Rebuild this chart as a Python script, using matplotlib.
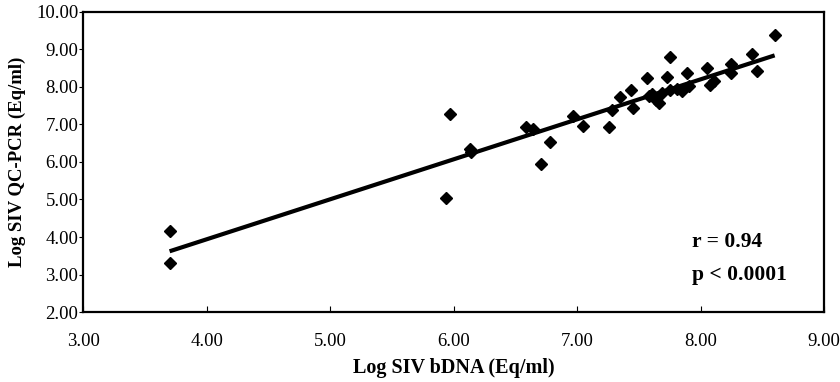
import matplotlib
matplotlib.use("Agg")
import matplotlib.pyplot as plt
from matplotlib.ticker import FormatStrFormatter

# Log SIV bDNA (x) vs Log SIV QC-PCR (y)
bdna = [3.70, 3.70, 5.94, 5.97, 6.13, 6.14, 6.59, 6.64, 6.71, 6.78,
        6.97, 7.05, 7.26, 7.28, 7.35, 7.44, 7.45, 7.57, 7.58, 7.61,
        7.64, 7.66, 7.69, 7.73, 7.75, 7.75, 7.81, 7.85, 7.89, 7.91,
        8.05, 8.08, 8.11, 8.25, 8.25, 8.42, 8.46, 8.60]
qcpcr = [4.17, 3.32, 5.03, 7.28, 6.35, 6.27, 6.92, 6.89, 5.94, 6.54,
         7.23, 6.97, 6.94, 7.39, 7.73, 7.91, 7.43, 8.25, 7.75, 7.82,
         7.65, 7.58, 7.85, 8.26, 8.81, 7.92, 7.94, 7.90, 8.37, 8.02,
         8.50, 8.05, 8.15, 8.62, 8.37, 8.88, 8.43, 9.38]

# regression line end points
fit_x = [3.70, 8.60]
fit_y = [3.62, 8.84]

x_ticks = [3, 4, 5, 6, 7, 8, 9]
y_ticks = [2, 3, 4, 5, 6, 7, 8, 9, 10]

plt.rcParams["font.family"] = ["Liberation Serif", "DejaVu Serif"]

fig = plt.figure(figsize=(8.4, 3.82), dpi=100)
ax = fig.add_axes([0.099, 0.183, 0.882, 0.786])

ax.plot(fit_x, fit_y, color="black", linewidth=3, solid_capstyle="butt", zorder=2)
ax.plot(bdna, qcpcr, linestyle="none", marker="D", markersize=6.5,
        color="black", zorder=3)

ax.set_xlim(3, 9)
ax.set_ylim(2, 10)
ax.set_xticks(x_ticks)
ax.set_yticks(y_ticks)
ax.xaxis.set_major_formatter(FormatStrFormatter("%.2f"))
ax.yaxis.set_major_formatter(FormatStrFormatter("%.2f"))
ax.tick_params(axis="x", direction="in", length=4, labelsize=13.5, pad=15)
ax.tick_params(axis="y", direction="out", length=3, labelsize=13.5, pad=0.5)

for s in ax.spines.values():
    s.set_linewidth(1.6)

ax.set_xlabel("Log SIV bDNA (Eq/ml)", fontsize=14.5, fontweight="bold", labelpad=6)
ax.set_ylabel("Log SIV QC-PCR (Eq/ml)", fontsize=13.5, fontweight="bold", labelpad=7)

ax.text(7.93, 3.87, "r = 0.94", fontsize=15.5, fontweight="bold", va="center")
ax.text(7.93, 2.99, "p < 0.0001", fontsize=15.5, fontweight="bold", va="center")

fig.savefig("out.png", dpi=100)
